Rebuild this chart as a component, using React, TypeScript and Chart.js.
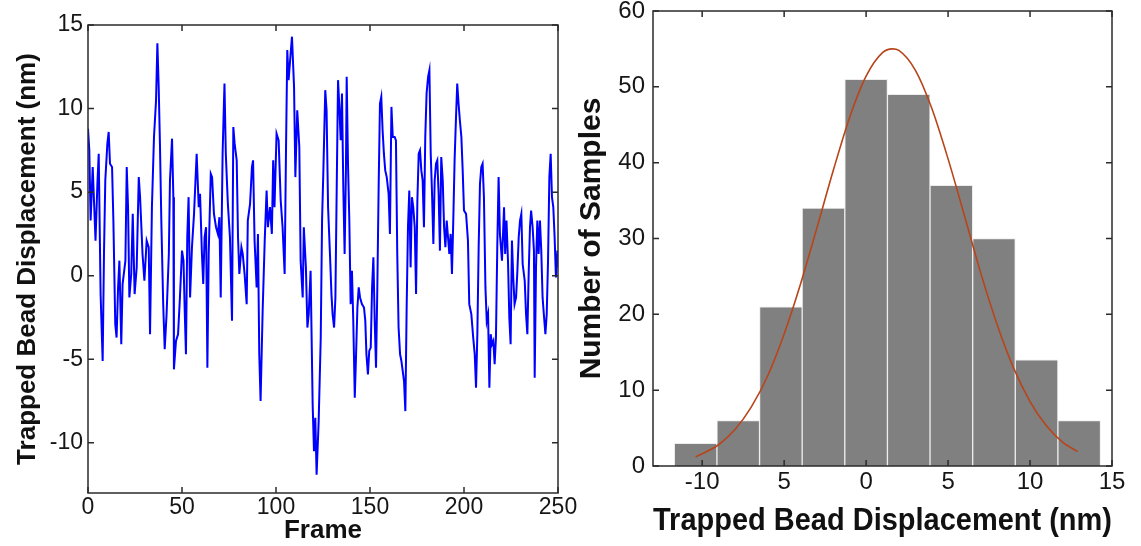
import React, { useEffect, useRef } from "react";
import { Chart, registerables } from "chart.js";

Chart.register(...registerables);

// ---------- Left panel: trace ----------
const frames = [
  0, 0.7, 1.4, 2.5, 4, 5, 5.7, 6.7, 7.8, 8.5, 9.2, 10.3, 11, 11.7, 12.8, 13.5, 14.5, 15.2, 16, 16.7,
  17.7, 18.4, 19.9, 20.6, 21.3, 22, 23, 23.8, 24.8, 25.9, 27, 27.7, 28.4, 29, 30, 31.2, 32.3, 33, 34, 35.1,
  36.2, 36.9, 37.6, 38.3, 39, 40, 40.8, 41.8, 43, 43.6, 44.7, 45.4, 45.7, 46.8, 47.9, 48.9, 50, 50.8, 51.4, 52.1,
  52.8, 53.5, 54.3, 55.3, 56.4, 57.1, 57.8, 58.9, 59.6, 60.6, 61.3, 62, 62.8, 63.5, 64.2, 65.3, 66, 67, 68.1, 69.1,
  69.9, 70.6, 71.6, 72.3, 72.6, 73.3, 74.4, 75.5, 76.6, 77.3, 78, 79.1, 79.8, 80.5, 81.6, 82.3, 83.3, 84.4, 85, 86.2,
  87.2, 87.8, 88.6, 89.7, 90.4, 91.1, 91.8, 92.9, 94, 95, 95.7, 96.8, 97.8, 98.5, 99.2, 100.3, 101.4, 102.5, 103.5, 104.6,
  105.3, 106, 106.7, 107.8, 108.5, 109.6, 110.3, 111.3, 112.4, 113.1, 114.2, 114.8, 115.9, 116.7, 117.4, 118.4, 119.5, 120.2, 120.9, 121.6,
  122.7, 123.8, 124.5, 125.2, 126.2, 126.9, 127.7, 128.7, 129.5, 130.1, 130.9, 131.6, 132.3, 133, 133.7, 134.4, 135.1, 135.8, 136.5, 137.2,
  137.6, 138.3, 139, 139.7, 140.4, 141.1, 141.9, 142.6, 143.3, 144, 144.7, 145.7, 146.8, 147.5, 148.1, 148.9, 149.6, 150.4, 151.1, 151.8,
  152.5, 153.2, 153.9, 154.6, 155.3, 156, 156.7, 157.4, 158.1, 158.9, 159.9, 160.6, 161.4, 162.1, 163.1, 163.8, 164.5, 165.2, 166, 166.7,
  168.1, 168.8, 169.5, 170.2, 170.9, 171.6, 172.3, 173, 173.8, 174.5, 175.2, 175.9, 176.6, 177.3, 178, 178.7, 179.4, 180.1, 180.9, 181.6,
  182.3, 183, 183.7, 184.4, 185.1, 185.8, 186.5, 187.2, 187.9, 188.7, 189.4, 190.1, 190.8, 191.5, 192.2, 192.9, 193.6, 194.3, 195, 195.7,
  196.4, 197.1, 197.8, 198.6, 199.3, 200, 201.1, 202.1, 202.8, 203.9, 204.9, 205.7, 206.4, 207.1, 207.8, 208.5, 209.2, 209.9, 210.6, 211.4,
  212.1, 212.8, 213.5, 214.2, 214.9, 215.6, 216.3, 217, 217.7, 218.4, 219.1, 220.2, 221.3, 221.9, 222.6, 223.4, 224.1, 224.8, 225.5, 226.2,
  226.9, 227.7, 228.4, 229.1, 229.8, 230.5, 231.2, 232.3, 233, 233.7, 234.4, 235.1, 235.7, 236.5, 237.2, 237.6, 238.3, 239, 239.7, 240.4,
  241.1, 241.8, 242.6, 243.3, 244, 244.7, 245.4, 246.1, 246.8, 247.5, 248.2, 248.9, 249.7, 250,
];

const displacement = [
  8.8, 7.5, 3.3, 6.5, 2.1, 5.5, 7.3, -1.1, -5.1, 1.3, 5.7, 7.9, 8.6, 6.7, 6.5, 3.3, -2.9, -3.7, -0.7, 0.9,
  -4.1, -0.5, 0.9, 6.5, 4.1, -1.3, 0.1, 3.7, -1.1, 0.5, 5.9, 4.7, 2.9, 1.3, -0.3, 2.1, 1.7, -3.5, 4.1, 8.3,
  10.5, 13.9, 11.3, 7.7, 3.3, -1.7, -4.4, -2.3, 1.3, 5.7, 8.2, 4.7, -5.6, -3.9, -3.5, -1.3, 1.5, 0.9, -1.9, -4.7,
  2.3, 4.7, -1.3, 1.7, 3.7, 5.5, 7.3, 4.1, 4.9, 1.3, -0.5, 2.3, 2.9, -5.5, 1.3, 6.1, 5.9, 3.7, 2.9, 2.5,
  3.5, -1.3, 7.3, 10.3, 11.5, 7.3, 4.3, 2.3, -2.7, 8.9, 7.9, 6.9, 2.3, 0.1, 1.7, 1.3, 0.1, -1.7, 3.3, 4.3,
  6.5, 6.9, 2.1, -0.7, 2.5, -4.7, -7.5, -2.1, 2.1, 5.1, 2.9, 4.1, 2.5, 6.9, 4.1, 8.5, 8.1, 4.5, 2.9, 0.1,
  7.3, 13.5, 11.7, 13.3, 14.3, 11.3, 5.9, 9.9, 7.7, 0.9, -1.3, 2.9, 0.5, -3.1, -2.3, 0.3, -7.7, -10.5, -8.5, -11.9,
  -8.7, -3.7, 3.3, 6.3, 11.1, 9.9, 4.1, 1.3, -1.1, -2.3, -3.1, -1.3, 5.3, 11.7, 10.1, 8.1, 10.9, 5.3, 1.3, 6.3,
  11.9, 6.7, 3.3, -1.7, 0.3, -2.7, -7.3, -4.7, -1.9, -0.7, -1.3, -1.7, -1.9, -2.7, -4.7, -5.9, -4.5, -4.3, -0.7, 1.1,
  -2.7, -5.5, -0.7, 5.3, 10.3, 10.7, 8.7, 7.3, 6.3, 5.9, 4.9, 2.5, 10.1, 8.3, 8.3, 8.1, 1.3, -3.1, -4.7, -5.1,
  -6.3, -8.1, -1.9, 2.9, 5.1, 0.5, 4.7, 4.1, 2.9, -1.1, 4.5, 7.3, 7.5, 6.3, 5.7, 2.9, 8.3, 10.9, 11.9, 12.3,
  7.3, 4.9, 1.9, 5.7, 6.7, 6.9, 4.9, 1.5, 7.1, 5.7, 2.9, 1.7, 3.3, 2.3, 1.3, 2.5, 0.1, 3.3, 6.9, 9.3,
  11.5, 10.3, 9.3, 8.3, 6.3, 3.9, 3.7, 2.1, -1.7, -2.3, -3.7, -4.7, -6.7, -3.5, 1.7, 5.5, 6.5, 6.7, 4.7, -0.7,
  -2.7, -2.3, -6.7, -3.5, -4.1, -3.9, -5.3, -3.7, 1.7, 5.9, 2.5, 0.9, 4.1, 1.3, 3.3, 0.9, -2.5, -4.1, 2.1, -0.1,
  -1.7, -1.3, 0.3, 2.3, 3.3, 3.7, 0.7, -0.3, -2.3, -3.5, 0.1, 2.9, 3.9, 2.9, 1.5, -6.1, 0.5, 3.3, 1.3, 3.3,
  1.5, -1.3, -2.5, -3.5, -2.3, 0.9, 5.9, 7.3, 4.7, 4.1, 2.3, -0.1, 1.5, 0.5,
];

const frameTicks = [0, 50, 100, 150, 200, 250];
const traceTicks = [-10, -5, 0, 5, 10, 15];

// ---------- Right panel: histogram ----------
const binCenters = [-10.4, -7.8, -5.2, -2.6, 0, 2.6, 5.2, 7.8, 10.4, 13.0];
const sampleCounts = [3, 6, 21, 34, 51, 49, 37, 30, 14, 6];

const fitX = [-10.4, -9, -8, -7, -6, -5, -4, -3, -2, -1, 0, 1, 1.6, 2, 3, 4, 5, 6, 7, 8, 9, 10, 11, 12, 12.9];
const fitY = [1.2, 2.8, 4.8, 7.8, 11.9, 17.4, 24.0, 31.4, 39.0, 46.0, 51.4, 54.5, 55.0, 54.8, 52.2, 47.2, 40.5, 33.0, 25.4, 18.6, 12.9, 8.5, 5.3, 3.1, 1.9];

const histXTickValues = [-10, -5, 0, 5, 10, 15];
const histXTickLabels = ["-10", "5", "0", "5", "10", "15"];
const histYTicks = [0, 10, 20, 30, 40, 50, 60];

const FONT = "'Liberation Sans', Arial, sans-serif";
const TEXT = "#161616";

const boxPlugin = {
  id: "matlabBox",
  afterDraw(chart: any) {
    const { ctx, chartArea: a, scales } = chart;
    ctx.save();
    ctx.strokeStyle = "#2b2b2b";
    ctx.lineWidth = 1.5;
    ctx.strokeRect(a.left, a.top, a.right - a.left, a.bottom - a.top);
    const len = 6;
    ctx.beginPath();
    for (const t of scales.x.ticks) {
      const px = scales.x.getPixelForValue(t.value);
      ctx.moveTo(px, a.bottom);
      ctx.lineTo(px, a.bottom - len);
      ctx.moveTo(px, a.top);
      ctx.lineTo(px, a.top + len);
    }
    for (const t of scales.y.ticks) {
      const py = scales.y.getPixelForValue(t.value);
      ctx.moveTo(a.left, py);
      ctx.lineTo(a.left + len, py);
      ctx.moveTo(a.right, py);
      ctx.lineTo(a.right - len, py);
    }
    ctx.stroke();
    ctx.restore();
  },
};

export default function App() {
  const leftRef = useRef<HTMLCanvasElement>(null);
  const rightRef = useRef<HTMLCanvasElement>(null);

  useEffect(() => {
    const left = new Chart(leftRef.current as HTMLCanvasElement, {
      type: "line",
      data: {
        datasets: [
          {
            data: frames.map((f, i) => ({ x: f, y: displacement[i] })),
            borderColor: "#0000ff",
            borderWidth: 2,
            pointRadius: 0,
            tension: 0,
            fill: false,
          },
        ],
      },
      options: {
        responsive: false,
        animation: false,
        devicePixelRatio: 1,
        layout: { padding: { top: 25, right: 42, bottom: 0, left: 0 } },
        plugins: { legend: { display: false }, tooltip: { enabled: false } },
        scales: {
          x: {
            type: "linear",
            min: 0,
            max: 250,
            grid: { display: false, drawTicks: false },
            border: { display: false },
            afterBuildTicks: (s: any) => {
              s.ticks = frameTicks.map((v) => ({ value: v }));
            },
            afterFit: (s: any) => {
              s.height = 53;
              s.paddingLeft = 0;
              s.paddingRight = 0;
            },
            ticks: { padding: 1, color: TEXT, font: { family: FONT, size: 23 }, maxRotation: 0 },
            title: {
              display: true,
              text: "Frame",
              color: "#111",
              font: { family: FONT, size: 26, weight: "bold" },
              padding: { top: 0, bottom: 0 },
            },
          },
          y: {
            type: "linear",
            min: -13,
            max: 15,
            grid: { display: false, drawTicks: false },
            border: { display: false },
            afterBuildTicks: (s: any) => {
              s.ticks = traceTicks.map((v) => ({ value: v }));
            },
            afterFit: (s: any) => {
              s.width = 88;
              s.paddingTop = 0;
              s.paddingBottom = 0;
            },
            ticks: { padding: 5, color: TEXT, font: { family: FONT, size: 23 } },
            title: {
              display: true,
              text: "Trapped Bead Displacement (nm)",
              color: "#111",
              font: { family: FONT, size: 26, weight: "bold" },
              padding: { top: 12, bottom: 0 },
            },
          },
        },
      },
      plugins: [boxPlugin],
    } as any);

    const right = new Chart(rightRef.current as HTMLCanvasElement, {
      type: "bar",
      data: {
        datasets: [
          {
            type: "line",
            data: fitX.map((x, i) => ({ x, y: fitY[i] })),
            borderColor: "#b8441a",
            borderWidth: 1.6,
            pointRadius: 0,
            cubicInterpolationMode: "monotone",
            fill: false,
            order: 0,
          },
          {
            type: "bar",
            data: binCenters.map((x, i) => ({ x, y: sampleCounts[i] })),
            backgroundColor: "#808080",
            borderColor: "#ececec",
            borderWidth: 1,
            barPercentage: 1,
            categoryPercentage: 1,
            order: 1,
          },
        ],
      },
      options: {
        responsive: false,
        animation: false,
        devicePixelRatio: 1,
        layout: { padding: { top: 11, right: 29, bottom: 6, left: 0 } },
        plugins: { legend: { display: false }, tooltip: { enabled: false } },
        scales: {
          x: {
            type: "linear",
            min: -13,
            max: 15,
            offset: false,
            grid: { display: false, drawTicks: false, offset: false },
            border: { display: false },
            afterBuildTicks: (s: any) => {
              s.ticks = histXTickValues.map((v) => ({ value: v }));
            },
            afterFit: (s: any) => {
              s.height = 74;
              s.paddingLeft = 0;
              s.paddingRight = 0;
            },
            ticks: {
              padding: 2,
              color: TEXT,
              font: { family: FONT, size: 24 },
              maxRotation: 0,
              callback: (v: any) => {
                const i = histXTickValues.indexOf(Number(v));
                return i >= 0 ? histXTickLabels[i] : "";
              },
            },
            title: {
              display: true,
              text: "Trapped Bead Displacement (nm)",
              color: "#111",
              font: { family: FONT, size: 31, weight: "bold" },
              padding: { top: 0, bottom: 0 },
            },
          },
          y: {
            type: "linear",
            min: 0,
            max: 60,
            grid: { display: false, drawTicks: false },
            border: { display: false },
            afterBuildTicks: (s: any) => {
              s.ticks = histYTicks.map((v) => ({ value: v }));
            },
            afterFit: (s: any) => {
              s.width = 93;
              s.paddingTop = 0;
              s.paddingBottom = 0;
            },
            ticks: { padding: 8, color: TEXT, font: { family: FONT, size: 24 } },
            title: {
              display: true,
              text: "Number of Samples",
              color: "#111",
              font: { family: FONT, size: 30, weight: "bold" },
              padding: { top: 14, bottom: 0 },
            },
          },
        },
      },
      plugins: [boxPlugin],
    } as any);

    return () => {
      left.destroy();
      right.destroy();
    };
  }, []);

  return (
    <div style={{ position: "absolute", left: 0, top: 0, width: 1141, height: 546, background: "#fff", overflow: "hidden" }}>
      <canvas
        ref={leftRef}
        width={600}
        height={546}
        style={{ position: "absolute", left: 0, top: 0, width: 600, height: 546 }}
      />
      <canvas
        ref={rightRef}
        width={581}
        height={546}
        style={{ position: "absolute", left: 560, top: 0, width: 581, height: 546 }}
      />
    </div>
  );
}
